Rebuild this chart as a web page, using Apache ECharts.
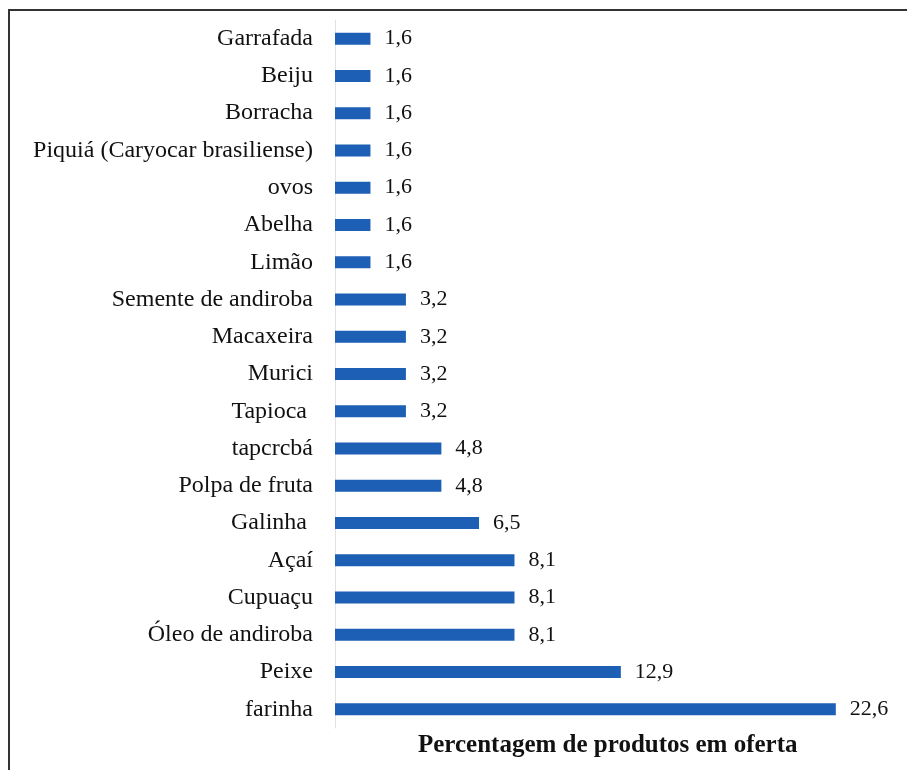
<!DOCTYPE html>
<html lang="pt">
<head>
    <meta charset="UTF-8">
    <title>Percentagem de produtos em oferta</title>
    <script src="https://cdn.jsdelivr.net/npm/echarts@6/dist/echarts.min.js"></script>
    <style>
        body { margin: 0; background: #fff; }
    </style>
</head>
<body>
<div id="chart" style="width: 907px; height: 770px;"></div>
<script type="text/javascript">
    // categorias de cima para baixo
    var produtos = ['Garrafada', 'Beiju', 'Borracha', 'Piquiá (Caryocar brasiliense)', 'ovos', 'Abelha', 'Limão',
        'Semente de andiroba', 'Macaxeira', 'Murici', 'Tapioca ', 'tapcrcbá', 'Polpa de fruta', 'Galinha ',
        'Açaí', 'Cupuaçu', 'Óleo de andiroba', 'Peixe', 'farinha'];
    var percentagens = [1.6, 1.6, 1.6, 1.6, 1.6, 1.6, 1.6, 3.2, 3.2, 3.2, 3.2, 4.8, 4.8, 6.5, 8.1, 8.1, 8.1, 12.9, 22.6];
    var tituloEixo = 'Percentagem de produtos em oferta';

    var chart = echarts.init(document.getElementById('chart'));
    var fonte = 'Liberation Serif';

    chart.setOption({
        backgroundColor: '#fff',
        animation: false,
        grid: { left: 335, right: 18, top: 20, bottom: 42 },
        xAxis: {
            type: 'value',
            min: 0,
            max: 25,
            show: false
        },
        yAxis: {
            type: 'category',
            inverse: true,
            data: produtos,
            axisLine: { show: true, lineStyle: { color: '#e2e2e2', width: 1 } },
            axisTick: { show: false },
            axisLabel: {
                fontFamily: fonte,
                fontSize: 24,
                color: '#111',
                margin: 22
            }
        },
        series: [{
            type: 'bar',
            data: percentagens,
            barWidth: 12,
            itemStyle: { color: '#1d5fb4' },
            label: {
                show: true,
                position: 'right',
                distance: 14,
                fontFamily: fonte,
                fontSize: 22,
                color: '#111',
                formatter: function (p) { return String(p.value).replace('.', ','); }
            }
        }],
        graphic: [
            {
                type: 'text',
                left: 418,
                top: 733,
                style: {
                    text: tituloEixo,
                    font: 'bold 25px "Liberation Serif"',
                    fill: '#111'
                }
            },
            {
                type: 'polyline',
                shape: { points: [[9, 770], [9, 10], [907, 10]] },
                style: { stroke: '#333', lineWidth: 2, fill: null }
            }
        ]
    });
</script>
</body>
</html>
